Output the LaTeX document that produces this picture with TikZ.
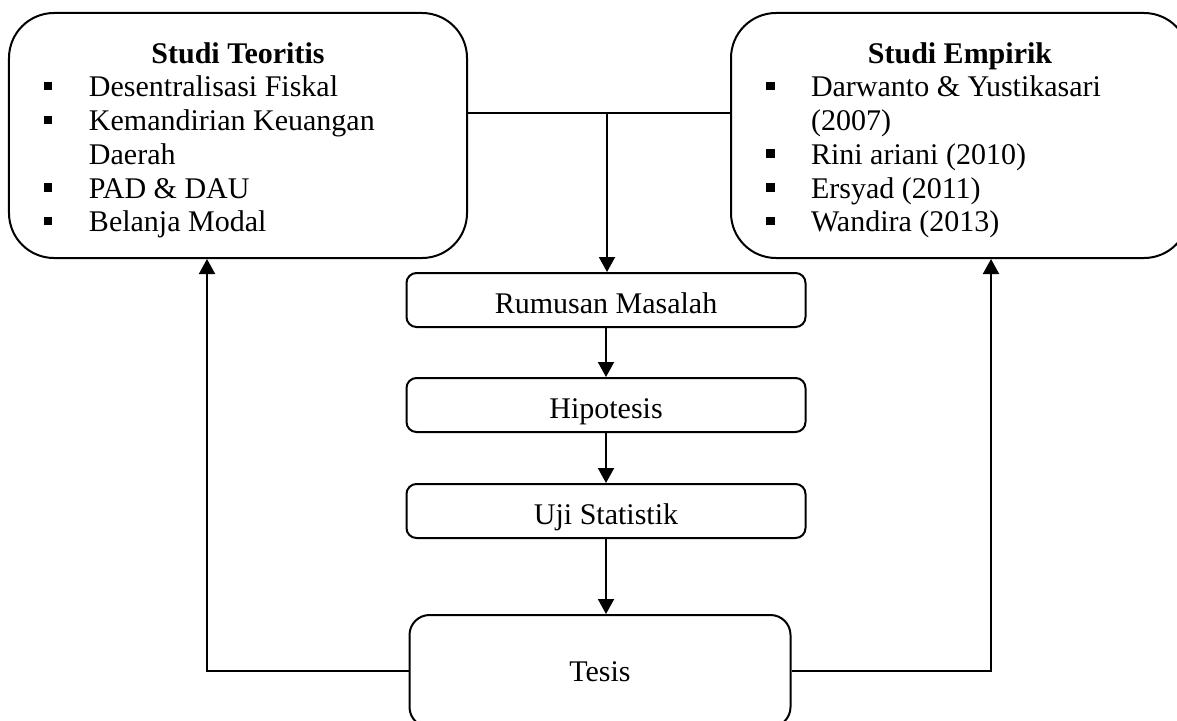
\documentclass[tikz,border=0pt]{standalone}
\usepackage{fontspec}
\setmainfont{Liberation Serif}
\usetikzlibrary{positioning,arrows.meta}
\tikzset{
  kotakbesar/.style={draw,line width=0.8pt,rounded corners=18pt,inner sep=0pt},
  kotak/.style={draw,line width=0.8pt,rounded corners=4pt,inner sep=0pt,minimum width=159.6pt,minimum height=21.6pt,text height=12pt,text depth=1pt},
  panah/.style={line width=0.8pt,-{Triangle[length=6pt,width=6.4pt]}},
  garis/.style={line width=0.8pt}
}
\newcommand{\butir}[1]{\par\hangindent=32pt\hangafter=1\noindent\makebox[32pt][l]{\hspace{14pt}\raisebox{2.6pt}{\rule{3.4pt}{3.4pt}}}#1}
\newcommand{\isikotak}[2]{\parbox[c][98pt][t]{183.2pt}{\setlength{\parskip}{0pt}{\centering\rule{0pt}{20pt}\textbf{#1}\par}\raggedright#2}}
\begin{document}
\begin{tikzpicture}[x=0.4pt,y=-0.4pt,font=\fontsize{12pt}{13.5pt}\selectfont]
\useasboundingbox (0,0) rectangle (1177,720);
\node[kotakbesar] (teori) at (238,135.5) {\isikotak{Studi Teoritis}{\butir{Desentralisasi Fiskal}\butir{Kemandirian Keuangan\newline Daerah}\butir{PAD \& DAU}\butir{Belanja Modal}}};
\node[kotakbesar] (empiris) at (960,135.5) {\isikotak{Studi Empirik}{\butir{Darwanto \& Yustikasari\newline (2007)}\butir{Rini ariani (2010)}\butir{Ersyad (2011)}\butir{Wandira (2013)}}};
\foreach \nama/\teks/\y in {rumusan/Rumusan Masalah/300,hipotesis/Hipotesis/405,uji/Uji Statistik/511} \node[kotak] (\nama) at (606,\y) {\teks};
\node[kotak,rounded corners=8pt,minimum width=152.4pt,minimum height=44.8pt,text height=8pt,text depth=0pt] (tesis) at (600,671) {Tesis};
% alur utama
\coordinate (cabang) at (607,113);
\draw[garis] (teori.east |- cabang) -- (empiris.west |- cabang);
\draw[panah] (cabang) -- (cabang |- rumusan.north);
\draw[panah] (rumusan.south) -- (hipotesis.north);
\draw[panah] (hipotesis.south) -- (uji.north);
\draw[panah] (uji.south) -- (uji.south |- tesis.north);
% umpan balik
\coordinate (balikkiri) at (207,671);
\coordinate (balikkanan) at (991,671);
\draw[panah] (tesis.west) -- (balikkiri) -- (balikkiri |- teori.south);
\draw[panah] (tesis.east) -- (balikkanan) -- (balikkanan |- empiris.south);
\end{tikzpicture}
\end{document}
